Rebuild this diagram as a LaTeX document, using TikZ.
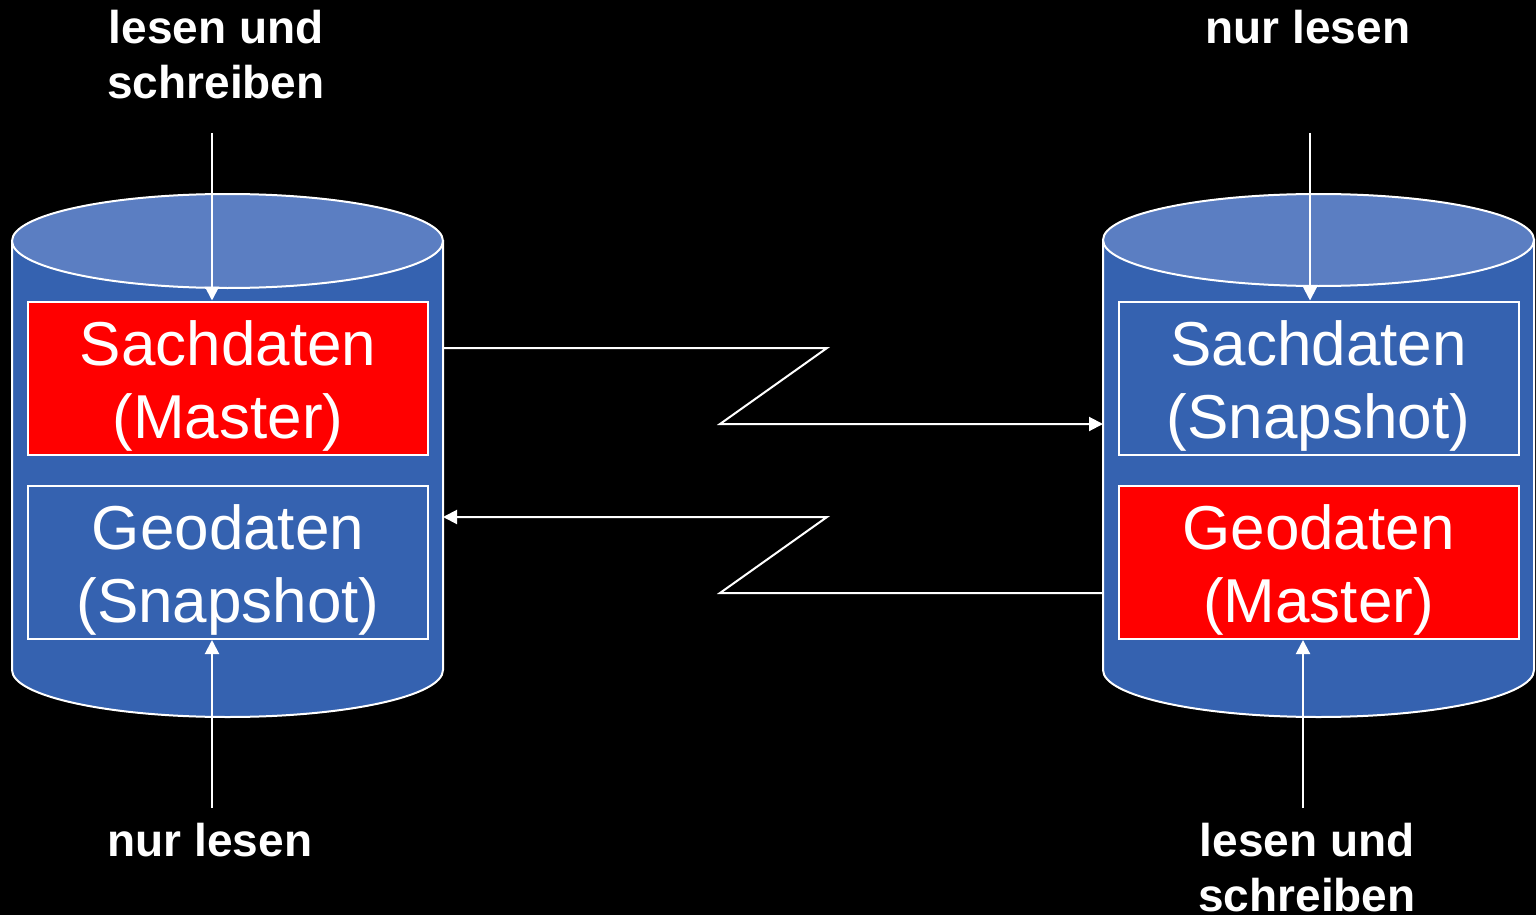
\documentclass[tikz,border=0pt]{standalone}
\usepackage{fontspec}
\setmainfont{Liberation Sans}
\usetikzlibrary{arrows.meta}
\definecolor{cylbody}{HTML}{3562B0}
\definecolor{cyltop}{HTML}{5B7EC2}
\definecolor{masterred}{HTML}{FF0000}
% strut that fixes the height of the first text line in a data box
\newcommand{\boxstrut}{\rule{0pt}{60pt}}
\begin{document}
\begin{tikzpicture}[x=1pt,y=1pt,
  wire/.style={white, line width=2pt},
  arr/.style={wire, -{Triangle[length=14pt,width=14pt]}},
  databox/.style={draw=white, line width=2pt, minimum width=400pt, minimum height=153pt,
    inner sep=0pt, text=white, align=center, font=\fontsize{62}{73}\selectfont},
  master/.style={databox, fill=masterred},
  snapshot/.style={databox, fill=cylbody},
  access/.style={text=white, align=center, font=\fontsize{46}{55}\selectfont\bfseries},
  cylside/.style={fill=cylbody, draw=white, line width=2pt},
  cyllid/.style={fill=cyltop, draw=white, line width=2pt},
  anchorbox/.style={inner sep=0pt, outer sep=0pt, minimum width=431pt, minimum height=429pt}]

% background and page size
\fill[black] (0,0) rectangle (1536,-915);
\useasboundingbox (0,0) rectangle (1536,-915);

% left database cylinder
\draw[cylside] (12,-241) -- (12,-670)
  arc[start angle=180, end angle=360, x radius=215.5, y radius=47] -- (443,-241) -- cycle;
\draw[cyllid] (227.5,-241) ellipse[x radius=215.5, y radius=47];
\node[anchorbox] (lcyl) at (227.5,-455.5) {};

% right database cylinder
\draw[cylside] (1103,-240) -- (1103,-670)
  arc[start angle=180, end angle=360, x radius=215.5, y radius=47] -- (1534,-240) -- cycle;
\draw[cyllid] (1318.5,-240) ellipse[x radius=215.5, y radius=46];
\node[anchorbox] (rcyl) at (1318.5,-455) {};

% data sets
\node[master]   (lsach) at (228,-378)      {\boxstrut Sachdaten\\(Master)};
\node[snapshot] (lgeo)  at (228,-562.5)    {\boxstrut Geodaten\\(Snapshot)};
\node[snapshot] (rsach) at (1318.5,-378)   {\boxstrut Sachdaten\\(Snapshot)};
\node[master]   (rgeo)  at (1318.5,-562.5) {\boxstrut Geodaten\\(Master)};

% access labels
\node[access] (ltop) at (216,-55)    {lesen und\\schreiben};
\node[access] (rtop) at (1308,-27)   {nur lesen};
\node[access] (lbot) at (210,-840)   {nur lesen};
\node[access] (rbot) at (1307,-867.5) {lesen und\\schreiben};

% access arrows
\coordinate (ltin) at (212,-133);
\coordinate (lbin) at (212,-808);
\coordinate (rtin) at (1310,-133);
\coordinate (rbin) at (1303,-808);
\draw[arr] (ltin) -- (ltin |- lsach.north);
\draw[arr] (lbin) -- (lbin |- lgeo.south);
\draw[arr] (rtin) -- (rtin |- rsach.north);
\draw[arr] (rbin) -- (rbin |- rgeo.south);

% replication links
\coordinate (k1) at (827,-348);
\coordinate (k2) at (720,-424);
\coordinate (k3) at (720,-593);
\coordinate (k4) at (827,-517);
\draw[arr] (lcyl.east |- k1) -- (k1) -- (k2) -- (rcyl.west |- k2);
\draw[arr] (rcyl.west |- k3) -- (k3) -- (k4) -- (lcyl.east |- k4);
\end{tikzpicture}
\end{document}
